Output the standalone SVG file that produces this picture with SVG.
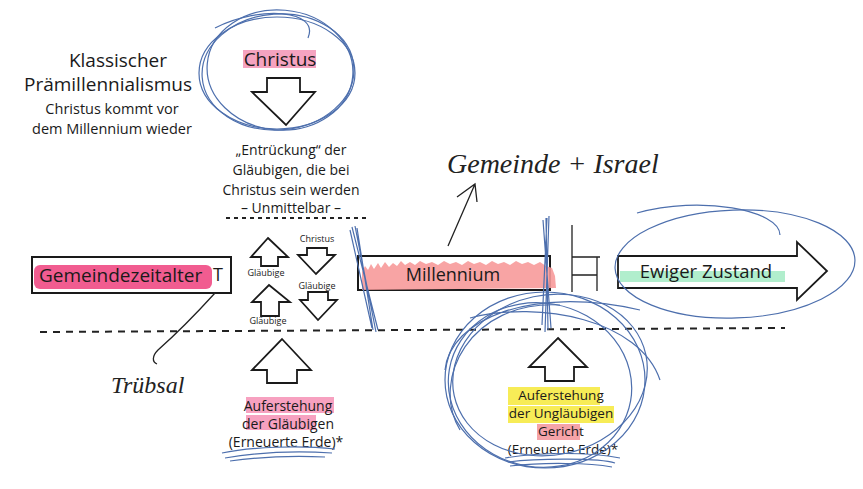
<svg xmlns="http://www.w3.org/2000/svg" width="863" height="489" viewBox="0 0 863 489">
<defs>
<style>
.t{font-family:"Open Sans","Noto Sans",sans-serif;fill:#1a1a1a;text-anchor:middle}
.hand{font-family:"Liberation Serif",serif;font-style:italic;fill:#222}
.box{fill:#fff;stroke:#1a1a1a;stroke-width:2}
.arr{fill:#fff;stroke:#1a1a1a;stroke-width:1.8;stroke-linejoin:miter}
.blue{fill:none;stroke:#4d6fad;stroke-width:1.2}
.ink{fill:none;stroke:#222;stroke-width:1.3}
.dash{stroke:#222;stroke-width:2;stroke-dasharray:7 6}
</style>
</defs>
<rect width="863" height="489" fill="#fff"/>

<g id="title">
<text class="t" x="118" y="67" font-size="19">Klassischer</text>
<text class="t" x="108" y="91" font-size="19">Prämillennialismus</text>
<text class="t" x="112" y="114" font-size="14.5">Christus kommt vor</text>
<text class="t" x="112" y="134" font-size="14.5">dem Millennium wieder</text>
</g>

<g id="christus">
<rect x="243" y="50" width="73" height="18" fill="#f5a3c0"/>
<text class="t" x="280" y="66" font-size="19">Christus</text>
<path class="arr" d="M267,78 H300 V92 H315 L286,125 L252,92 H267 Z"/>
</g>

<g id="entrueckung">
<text class="t" x="291" y="155" font-size="14">„Entrückung“ der</text>
<text class="t" x="291" y="175" font-size="14">Gläubigen, die bei</text>
<text class="t" x="291" y="195" font-size="14">Christus sein werden</text>
<text class="t" x="291" y="213" font-size="14">– Unmittelbar –</text>
<line x1="226" y1="218" x2="368" y2="218" stroke="#222" stroke-width="2" stroke-dasharray="4 4"/>
</g>

<g id="gemeindezeitalter">
<rect class="box" x="32" y="257" width="199" height="36"/>
<rect x="34" y="265" width="178" height="24" rx="6" fill="#ee3f7d" opacity="0.85"/>
<text class="t" x="39" y="282" font-size="19" style="text-anchor:start">Gemeindezeitalter</text>
<text class="t" x="218" y="281" font-size="18">T</text>
</g>

<g id="mini-arrows">
<path class="arr" d="M268,238 L288,257 H278 V266 H261 V257 H251 Z" stroke-width="1.4"/>
<text class="t" x="266" y="276" font-size="9">Gläubige</text>
<text class="t" x="317" y="242" font-size="9">Christus</text>
<path class="arr" d="M307,248 H327 V255 H335 L316,274 L298,255 H307 Z" stroke-width="1.4"/>
<text class="t" x="317" y="289" font-size="9">Gläubige</text>
<path class="arr" d="M308,292 H328 V300 H337 L318,320 L300,300 H308 Z" stroke-width="1.4"/>
<path class="arr" d="M269,285 L290,302 H279 V316 H261 V302 H252 Z" stroke-width="1.4"/>
<text class="t" x="268" y="324" font-size="9">Gläubige</text>
</g>

<g id="millennium">
<rect class="box" x="358" y="256" width="192" height="34"/>
<path d="M362,272 L365,266 L368,270 L371,264 L374,269 L378,263 L381,268 L385,262 L389,267 L393,263 L397,266 L401,261 L405,265 L410,262 L415,265 L420,261 L426,264 L432,262 L438,265 L444,261 L450,264 L456,262 L462,265 L468,261 L474,264 L480,262 L486,265 L492,261 L498,264 L504,262 L510,265 L516,261 L522,264 L528,262 L534,265 L540,262 L546,266 L552,268 L555,276 L556,288 L362,290 Z" fill="#f79a9a" opacity="0.9"/>
<text class="t" x="453" y="281" font-size="18">Millennium</text>
</g>

<g id="gericht-symbol">
<path class="ink" d="M572,225 V292 M572,257 H600 M597,257 V291 M572,275 H597" stroke-width="1.6"/>
</g>

<g id="ewiger-zustand">
<path class="arr" d="M618,256 H797 V242 L827,271 L797,300 V288 H618 Z" stroke-width="2"/>
<rect x="620" y="271" width="165" height="11" fill="#a8ecc8" opacity="0.9"/>
<text class="t" x="706" y="278" font-size="18.5">Ewiger Zustand</text>
</g>

<g id="auferstehung-glaeubige">
<path class="arr" d="M282,339 L311,370 H297 V383 H267 V370 H252 Z"/>
<rect x="246" y="397" width="88" height="16" fill="#f7a1c0"/>
<rect x="246" y="415" width="70" height="15" fill="#f7a1c0"/>
<text class="t" x="288" y="411" font-size="14">Auferstehung</text>
<text class="t" x="288" y="429" font-size="14">der Gläubigen</text>
<text class="t" x="286" y="447" font-size="14">(Erneuerte Erde)*</text>
</g>

<g id="auferstehung-unglaeubige">
<path class="arr" d="M558,338 L587,367 H574 V381 H545 V367 H529 Z"/>
<rect x="508" y="387" width="92" height="18" fill="#f6ea45" opacity="0.9"/>
<rect x="508" y="406" width="106" height="17" fill="#f6ea45" opacity="0.9"/>
<rect x="537" y="424" width="43" height="16" fill="#f5a3a8"/>
<text class="t" x="561" y="400" font-size="13.5">Auferstehung</text>
<text class="t" x="561" y="418" font-size="13.5">der Ungläubigen</text>
<text class="t" x="561" y="436" font-size="13.5">Gericht</text>
<text class="t" x="563" y="454" font-size="13.5">(Erneuerte Erde)*</text>
</g>

<g id="handwriting">
<text class="hand" x="447" y="173" font-size="28">Gemeinde + Israel</text>
<text class="hand" x="111" y="393" font-size="24">Trübsal</text>
</g>

<g id="connectors">
<line class="dash" x1="40" y1="332" x2="785" y2="328"/>
<path class="ink" d="M215,293 C195,315 175,335 158,350 C152,356 152,362 157,364"/>
<path class="ink" d="M448,246 L475,184 M457,197 L475,184 L477,202" stroke-width="1.5"/>
</g>

<g id="scribbles">
<ellipse class="blue" cx="278" cy="72" rx="76" ry="58" transform="rotate(-4 278 72)"/>
<ellipse class="blue" cx="280" cy="70" rx="73" ry="60" transform="rotate(5 280 70)"/>
<ellipse class="blue" cx="277" cy="73" rx="78" ry="56"/>
<path class="blue" d="M215,28 C260,5 320,10 308,38"/>
<path class="blue" d="M352,227 L378,330 M355,226 L376,332 M350,230 L372,328 M357,228 L373,330" stroke-width="1.3"/>
<path class="blue" d="M546,218 L548,330 M549,216 L545,332 M543,220 L551,328 M547,218 L542,325" stroke-width="1.5"/>
<ellipse class="blue" cx="735" cy="264" rx="120" ry="54" transform="rotate(-2 735 264)"/>
<path class="blue" d="M637,213 C700,195 780,210 780,235"/>
<ellipse class="blue" cx="545" cy="380" rx="100" ry="88"/>
<ellipse class="blue" cx="540" cy="385" rx="92" ry="82" transform="rotate(10 540 385)"/>
<ellipse class="blue" cx="550" cy="375" rx="98" ry="80" transform="rotate(-12 550 375)"/>
<path class="blue" d="M445,370 C450,320 530,285 640,310 M460,430 C430,380 470,300 560,305 M470,318 C540,300 640,320 660,380"/>
<path class="blue" d="M505,458 C540,452 590,452 620,458 M508,462 C540,458 600,458 615,463 M510,466 C545,462 590,463 612,467" stroke-width="1.6"/>
<path class="blue" d="M222,453 C250,447 300,445 335,449 M225,458 C260,452 300,451 332,453 M230,461 C265,456 300,456 325,457" stroke-width="1.5"/>
</g>
</svg>
